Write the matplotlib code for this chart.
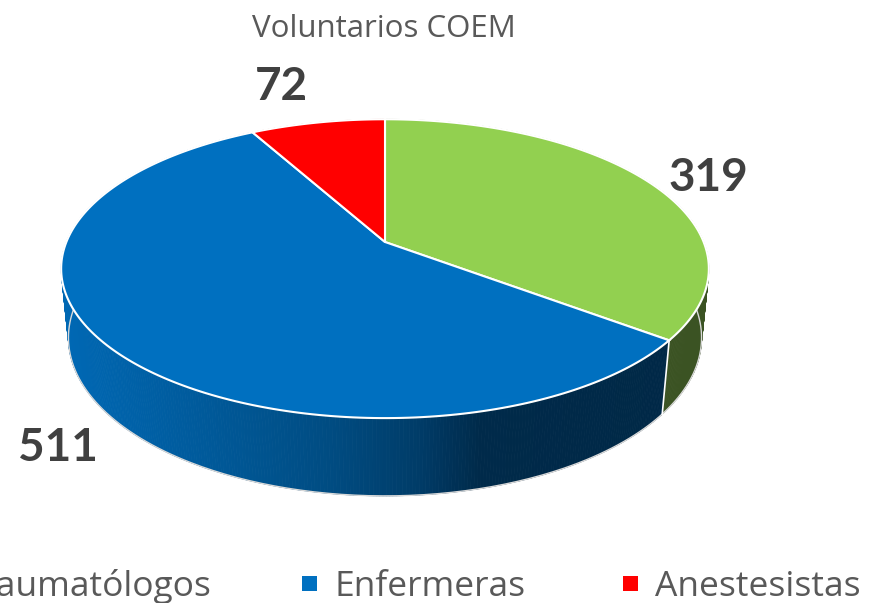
import numpy as np
import matplotlib.pyplot as plt
from matplotlib.patches import Polygon, Rectangle

# Data
categories = ['Traumatólogos', 'Enfermeras', 'Anestesistas']
values = [319, 511, 72]
top_colors = ['#92D050', '#0070C0', '#FF0000']
title = 'Voluntarios COEM'

plt.rcParams['font.family'] = ['Open Sans', 'DejaVu Sans']

# perspective camera for the 3D pie (pixel space)
cx, cy = 385, 242
f, D = 1590, 4.99
alpha = np.radians(27)
sa, ca = np.sin(alpha), np.cos(alpha)
H = 0.245


def project(theta, h=0.0, r=1.0):
    # theta: degrees clockwise from top (back) of the disk
    t = np.radians(theta)
    x = r * np.sin(t)
    z = -r * np.cos(t)
    depth = D - h * sa - z * ca
    u = cx + f * x / depth
    v = cy - f * (h * ca - z * sa) / depth
    return u, v, depth


def blue_shade(u):
    stops_u = [63, 200, 330, 420, 480, 700]
    stops_c = np.array([[0, 104, 180], [0, 90, 155], [0, 76, 130],
                        [0, 60, 104], [0, 42, 74], [0, 40, 70]]) / 255
    return [np.interp(u, stops_u, stops_c[:, k]) for k in range(3)]


wall_color = {'#92D050': (59 / 255, 83 / 255, 35 / 255),
              '#FF0000': (150 / 255, 0, 0)}

fig = plt.figure(figsize=(8.71, 6.03), dpi=100)
ax = fig.add_axes([0, 0, 1, 1])
ax.set_xlim(0, 871)
ax.set_ylim(603, 0)
ax.axis('off')

total = sum(values)
edges = np.concatenate([[0], np.cumsum(values)]) / total * 360

# side walls, far segments first
segs = []
for i in range(len(values)):
    th = np.linspace(edges[i], edges[i + 1], int((edges[i + 1] - edges[i]) * 2) + 2)
    for a, b in zip(th[:-1], th[1:]):
        u1, v1, d1 = project(a)
        u2, v2, d2 = project(b)
        u3, v3, _ = project(b, -H)
        u4, v4, _ = project(a, -H)
        if top_colors[i] == '#0070C0':
            col = blue_shade((u1 + u2) / 2)
        else:
            col = wall_color[top_colors[i]]
        segs.append(((d1 + d2) / 2, [(u1, v1), (u2, v2), (u3, v3), (u4, v4)], col))
segs.sort(key=lambda s: -s[0])
for _, pts, col in segs:
    ax.add_patch(Polygon(pts, closed=True, facecolor=col, edgecolor=col,
                         linewidth=0.6, zorder=1))

# light outline along the bottom of the walls
thb = np.linspace(75, 285, 300)
ub, vb, _ = project(thb, -H)
ax.plot(ub, vb, color='#d9d9d9', lw=1.0, zorder=2)

# white edge between the blue and green walls
ue, ve, _ = project(np.array([edges[1], edges[1]]), np.array([0, -H]))
ax.plot(ue, ve, color='white', lw=1.2, zorder=2)

# top faces
for i in range(len(values)):
    th = np.linspace(edges[i], edges[i + 1], 200)
    u, v, _ = project(th)
    pts = [(cx, cy)] + list(zip(u, v))
    ax.add_patch(Polygon(pts, closed=True, facecolor=top_colors[i],
                         edgecolor='white', linewidth=1.5, zorder=3))

# value labels
label_pos = [(708, 191), (58, 461), (281, 100)]
for val, (lx, ly) in zip(values, label_pos):
    ax.text(lx, ly, str(val), fontsize=33, fontweight='bold', color='#404040',
            family=['Lato', 'DejaVu Sans'], ha='center', va='baseline', zorder=5)

# title
ax.text(384, 37, title, fontsize=22.5, color='#595959', ha='center', va='baseline')

# legend along the bottom (first entry runs off the left edge)
leg_text_x = [212, 334, 655]
leg_ha = ['right', 'left', 'left']
leg_marker_x = [-110, 302, 623]
for name, col, tx, ha, mx in zip(categories, top_colors, leg_text_x, leg_ha, leg_marker_x):
    ax.add_patch(Rectangle((mx, 576), 15, 15, facecolor=col, edgecolor='none',
                           clip_on=False))
    ax.text(tx, 596, name, fontsize=25.5, color='#595959', ha=ha, va='baseline')

fig.savefig('out.png', dpi=100)
